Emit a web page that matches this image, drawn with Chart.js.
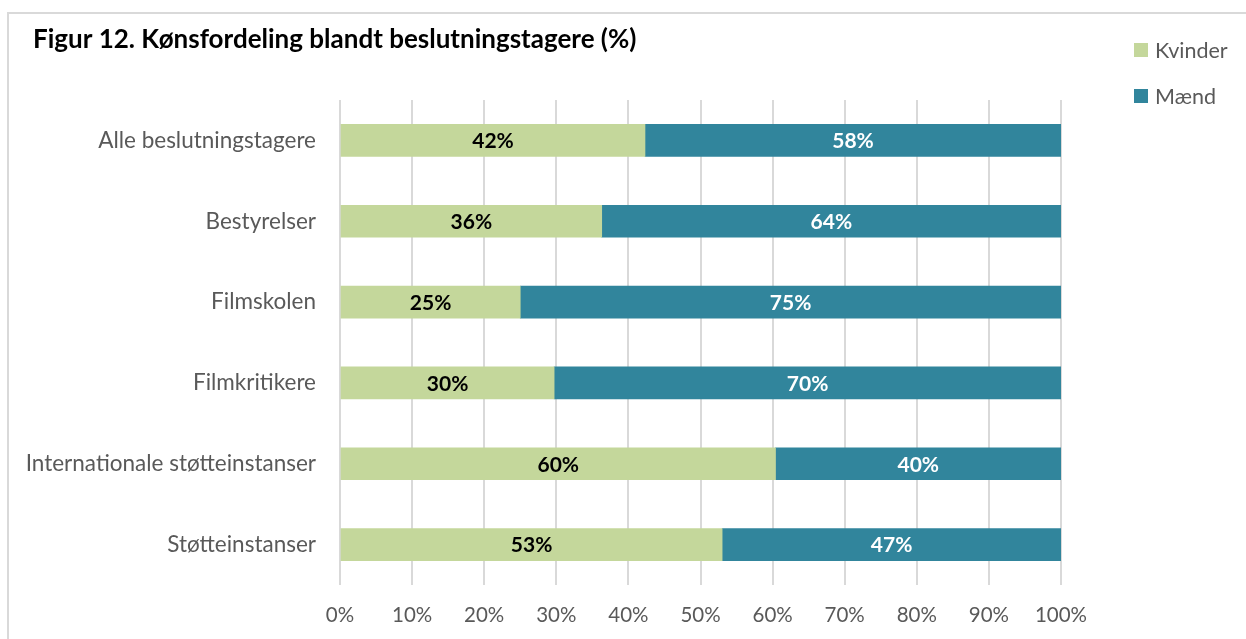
<!DOCTYPE html>
<html lang="da">
<head>
  <meta charset="UTF-8" />
  <title>Figur 12</title>
  <script src="https://cdn.jsdelivr.net/npm/chart.js"></script>
  <style>
    body { margin: 0; background: #fff; }
    #wrap { position: relative; width: 1246px; height: 639px; overflow: hidden; }
    #frame { position: absolute; left: 7px; top: 12px; width: 1300px; height: 700px;
             border-top: 2px solid #d9d9d9; border-left: 2px solid #d9d9d9; }
    canvas { position: absolute; left: 0; top: 0; }
  </style>
</head>
<body>
  <div id="wrap">
    <div id="frame"></div>
    <canvas id="chart" width="1246" height="639"></canvas>
  </div>

  <script>
    const categories = ['Alle beslutningstagere', 'Bestyrelser', 'Filmskolen', 'Filmkritikere', 'Internationale støtteinstanser', 'Støtteinstanser'];
    const kvinder = [42.3, 36.3, 25.0, 29.7, 60.4, 53.0];
    const maend = [57.7, 63.7, 75.0, 70.3, 39.6, 47.0];
    const tickLabels = ['0%', '10%', '20%', '30%', '40%', '50%', '60%', '70%', '80%', '90%', '100%'];
    const title = 'Figur 12. Kønsfordeling blandt beslutningstagere (%)';

    const font = 'Lato, "Open Sans", sans-serif';
    const grey = '#595959';

    // tal midt i hver bjælke
    const barLabels = {
      id: 'barLabels',
      afterDatasetsDraw(chart) {
        const ctx = chart.ctx;
        ctx.save();
        ctx.font = 'bold 21px ' + font;
        ctx.textAlign = 'center';
        ctx.textBaseline = 'middle';
        chart.data.datasets.forEach((ds, i) => {
          ctx.fillStyle = i === 0 ? '#000' : '#fff';
          chart.getDatasetMeta(i).data.forEach((bar, j) => {
            ctx.fillText(Math.round(ds.data[j]) + '%', (bar.x + bar.base) / 2, bar.y + 1);
          });
        });
        ctx.restore();
      }
    };

    // titel og forklaring
    const header = {
      id: 'header',
      afterDraw(chart) {
        const ctx = chart.ctx;
        ctx.save();
        ctx.textBaseline = 'middle';
        ctx.fillStyle = '#000';
        ctx.font = 'bold 26px ' + font;
        ctx.fillText(title, 33, 40);
        ctx.font = '21.5px ' + font;
        chart.data.datasets.forEach((ds, i) => {
          const y = 50 + i * 46;
          ctx.fillStyle = ds.backgroundColor;
          ctx.fillRect(1134, y - 7, 14, 14);
          ctx.fillStyle = grey;
          ctx.fillText(ds.label, 1155, y + 1);
        });
        ctx.restore();
      }
    };

    new Chart(document.getElementById('chart'), {
      type: 'bar',
      data: {
        labels: categories,
        datasets: [
          { label: 'Kvinder', data: kvinder, backgroundColor: '#c4d79b' },
          { label: 'Mænd', data: maend, backgroundColor: '#31859c' }
        ]
      },
      options: {
        indexAxis: 'y',
        responsive: false,
        animation: false,
        layout: { padding: { left: 20, right: 185, top: 100, bottom: 0 } },
        datasets: { bar: { barThickness: 32 } },
        scales: {
          x: {
            stacked: true,
            min: 0,
            max: 100,
            afterFit(s) { s.height = 54; },
            grid: { color: '#d9d9d9', lineWidth: 2, drawTicks: false },
            border: { display: false },
            ticks: {
              stepSize: 10,
              padding: 18,
              color: grey,
              font: { family: font, size: 20.5 },
              callback: (v, i) => tickLabels[i]
            }
          },
          y: {
            stacked: true,
            afterFit(s) { s.width = 320; },
            grid: { display: false },
            border: { display: false },
            ticks: { padding: 16, color: grey, font: { family: font, size: 22.5 } }
          }
        },
        plugins: {
          legend: { display: false },
          tooltip: { enabled: false },
          title: { display: false }
        }
      },
      plugins: [barLabels, header]
    });
  </script>
</body>
</html>
